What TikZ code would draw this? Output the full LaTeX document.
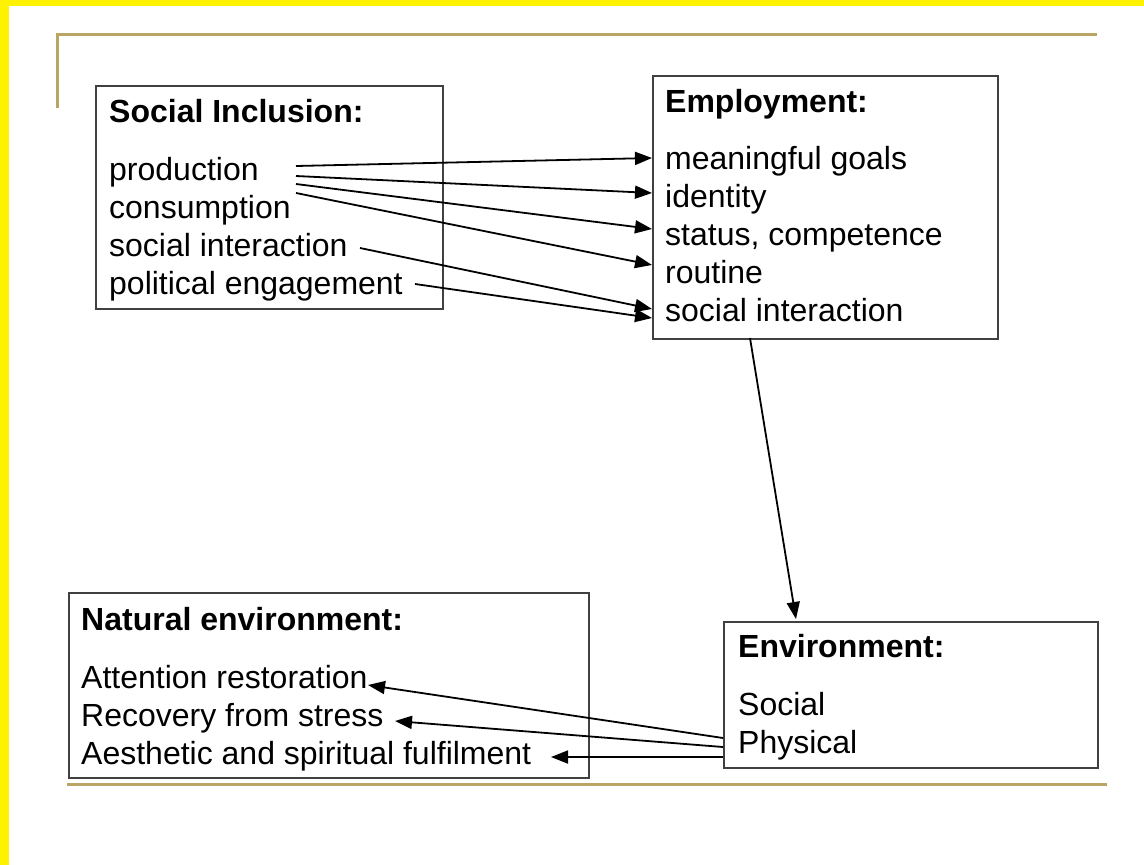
\documentclass[tikz,border=0pt]{standalone}
\usepackage{fontspec}
\setmainfont{Liberation Sans}
\usetikzlibrary{arrows.meta}
\definecolor{boxgray}{RGB}{64,64,64}
\definecolor{goldline}{RGB}{186,166,100}
\begin{document}
\begin{tikzpicture}[x=1pt,y=-1pt,
  box/.style={draw=boxgray, line width=1.8pt, anchor=north west, inner sep=0pt},
  txt/.style={anchor=base west, inner sep=0pt, font=\fontsize{32}{38}\selectfont},
  ttl/.style={anchor=base west, inner sep=0pt, font=\fontsize{32}{38}\selectfont\bfseries},
  arr/.style={-{Triangle[length=17pt,width=13pt]}, line width=1.8pt, draw=black},
  gold/.style={draw=goldline, line width=3pt}]
\useasboundingbox (0,0) rectangle (1144,865);
\fill[white] (0,0) rectangle (1144,865);
\fill[yellow] (0,0) rectangle (1144,6);
\fill[yellow] (0,0) rectangle (9,865);
% gold rules
\draw[gold] (57,108) -- (57,34) -- (1097,34);
\draw[gold] (67,784) -- (1107,784);
% boxes
\node[box, minimum width=347pt, minimum height=223pt] (si) at (95,85) {};
\node[box, minimum width=345pt, minimum height=263pt] (emp) at (652,75) {};
\node[box, minimum width=374pt, minimum height=146pt] (env) at (723,621) {};
\node[box, minimum width=520pt, minimum height=185pt] (nat) at (68,592) {};
% Social Inclusion
\node[ttl] (siT) at (109,122) {Social Inclusion:};
\node[txt] (prod) at (109,180) {production};
\node[txt] (cons) at (109,218) {consumption};
\node[txt] (sint) at (109,256) {social interaction};
\node[txt] (pol) at (109,294) {political engagement};
% Employment
\node[ttl] (empT) at (665,112) {Employment:};
\node[txt] (goals) at (665,169) {meaningful goals};
\node[txt] (ident) at (665,207) {identity};
\node[txt] (stat) at (665,245) {status, competence};
\node[txt] (rout) at (665,283) {routine};
\node[txt] (esoc) at (665,321) {social interaction};
% Environment
\node[ttl] (envT) at (738,657) {Environment:};
\node[txt] (soc) at (738,715) {Social};
\node[txt] (phys) at (738,753) {Physical};
% Natural environment
\node[ttl] (natT) at (81,630) {Natural environment:};
\node[txt] (att) at (81,688) {Attention restoration};
\node[txt] (rec) at (81,726) {Recovery from stress};
\node[txt] (aes) at (81,764) {Aesthetic and spiritual fulfilment};
% connector end points
\coordinate (p1) at (296,166);
\coordinate (p2) at (296,176);
\coordinate (p3) at (296,184);
\coordinate (p4) at (296,193);
\coordinate (s1) at (360,248);
\coordinate (q1) at (415,284);
\coordinate (t1) at (652,158);
\coordinate (t2) at (652,193);
\coordinate (t3) at (652,229);
\coordinate (t4) at (652,265);
\coordinate (t5) at (652,309);
\coordinate (t6) at (652,318);
\coordinate (eb) at (750,338);
\coordinate (et) at (796,619);
\coordinate (v1) at (723,738);
\coordinate (v2) at (723,747);
\coordinate (v3) at (723,757);
\coordinate (n1) at (368,685);
\coordinate (n2) at (395,721);
\coordinate (n3) at (551,757);
% connectors
\draw[arr] (p1) -- (t1);
\draw[arr] (p2) -- (t2);
\draw[arr] (p3) -- (t3);
\draw[arr] (p4) -- (t4);
\draw[arr] (s1) -- (t5);
\draw[arr] (q1) -- (t6);
\draw[arr] (eb) -- (et);
\draw[arr] (v1) -- (n1);
\draw[arr] (v2) -- (n2);
\draw[arr] (v3) -- (n3);
\end{tikzpicture}
\end{document}
